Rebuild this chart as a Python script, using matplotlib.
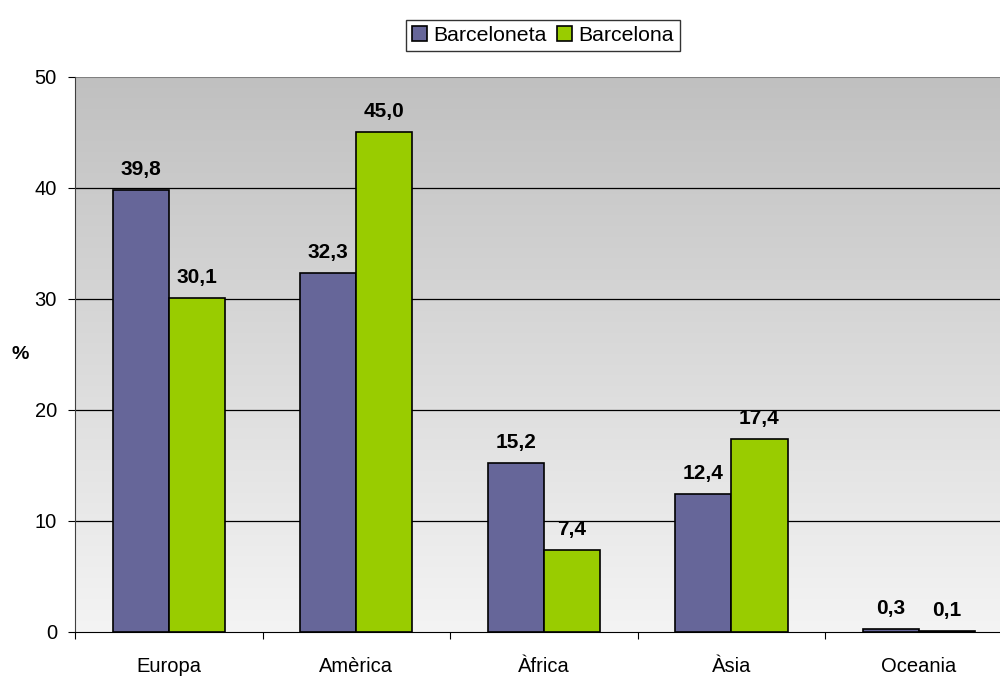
import matplotlib.pyplot as plt
import numpy as np

plt.rcParams['font.family'] = ['Liberation Sans', 'DejaVu Sans']

# data
regions = ['Europa', 'Amèrica', 'Àfrica', 'Àsia', 'Oceania']
barceloneta = [39.8, 32.3, 15.2, 12.4, 0.3]
barcelona = [30.1, 45.0, 7.4, 17.4, 0.1]
yticks = [0, 10, 20, 30, 40, 50]

fig = plt.figure(figsize=(10, 6.77), dpi=100)
ax = fig.add_axes([0.075, 0.0665, 0.9375, 0.82])

# grey gradient background
grad = np.linspace(0, 1, 256).reshape(-1, 1)
ax.imshow(grad, extent=[0, 1, 0, 1], transform=ax.transAxes, aspect='auto',
          cmap=plt.matplotlib.colors.LinearSegmentedColormap.from_list('g', ['#f4f4f4', '#c0c0c0']),
          origin='lower', zorder=0)

x = np.arange(len(regions))
w = 0.3
b1 = ax.bar(x - w/2, barceloneta, w, color='#666699', edgecolor='black', linewidth=1.2,
            label='Barceloneta', zorder=3)
b2 = ax.bar(x + w/2, barcelona, w, color='#99cc00', edgecolor='black', linewidth=1.2,
            label='Barcelona', zorder=3)

for bars, vals in [(b1, barceloneta), (b2, barcelona)]:
    for r, v in zip(bars, vals):
        ax.text(r.get_x() + r.get_width()/2, v + 1.35, ('%.1f' % v).replace('.', ','),
                ha='center', va='baseline', fontsize=15, fontweight='bold', zorder=4)

ax.set_xlim(-0.5, len(regions) - 0.5)
ax.set_ylim(0, 50)
ax.set_yticks(yticks)
ax.set_yticklabels([str(t) for t in yticks], fontsize=14.5)
for t in yticks[1:-1]:
    ax.axhline(t, color='black', linewidth=0.9, zorder=1)
ax.axhline(50, color='#808080', linewidth=1.5, zorder=1)

ax.set_xticks(np.arange(len(regions) + 1) - 0.5)
ax.set_xticklabels([])
ax.set_xticks(x, minor=True)
ax.set_xticklabels(regions, minor=True, fontsize=14.5)
ax.tick_params(axis='x', which='minor', length=0, pad=18)
ax.tick_params(axis='x', which='major', length=5, direction='out')
ax.tick_params(axis='y', length=5, direction='out', pad=8)

for s in ['top', 'right']:
    ax.spines[s].set_visible(False)
ax.spines['left'].set_color('#404040')
ax.spines['bottom'].set_color('black')

ax.set_ylabel('%', fontsize=14, fontweight='bold', rotation=0, va='center')
ax.yaxis.set_label_coords(-0.058, 0.5)

leg = fig.legend(handles=[b1, b2], loc='center', bbox_to_anchor=(0.543, 0.9476), ncol=2,
                 fontsize=15.3, frameon=True, fancybox=False, edgecolor='black',
                 handlelength=0.7, handleheight=0.7, handletextpad=0.3, columnspacing=0.5,
                 borderpad=0.3)
leg.get_frame().set_linewidth(1.0)

fig.savefig('out.png', dpi=100)
